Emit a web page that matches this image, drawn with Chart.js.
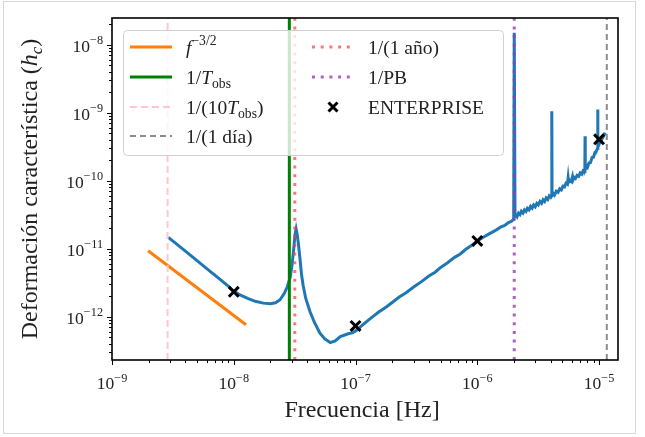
<!DOCTYPE html>
<html>
<head>
<meta charset="utf-8">
<script src="https://cdn.jsdelivr.net/npm/chart.js@4.4.1/dist/chart.umd.min.js"></script>
<style>
  html, body { margin: 0; padding: 0; background: #fff; }
  canvas { display: block; }
</style>
</head>
<body>
<canvas id="hcChart" width="645" height="437"></canvas>
<script>
// sensitivity curve
const freq = [
  2.90e-9, 3.5e-9, 4.5e-9, 6e-9, 7.5e-9, 9e-9, 1.0e-8, 1.15e-8, 1.3e-8, 1.5e-8, 1.75e-8, 2.0e-8,
  2.2e-8, 2.4e-8, 2.6e-8, 2.75e-8, 2.9e-8, 3.0e-8, 3.1e-8, 3.18e-8, 3.25e-8, 3.32e-8, 3.4e-8,
  3.5e-8, 3.6e-8, 3.71e-8, 3.9e-8, 4.23e-8, 4.6e-8, 5.1e-8, 5.6e-8, 6.2e-8, 6.8e-8, 7.5e-8,
  8.7e-8, 9.5e-8, 1.02e-7, 1.15e-7, 1.32e-7, 1.55e-7, 1.8e-7, 2.3e-7, 2.6e-7, 3.0e-7, 3.5e-7, 4.0e-7,
  4.5e-7, 5.0e-7, 5.7e-7, 6.5e-7, 7.2e-7, 8.0e-7, 9.0e-7, 1.0e-6, 1.12e-6, 1.25e-6, 1.4e-6, 1.55e-6,
  1.68e-6, 1.8e-6, 1.9e-6, 1.99e-6, 2.01e-6, 2.04e-6,
  2.06e-6, 2.12e-6, 2.18e-6, 2.24e-6, 2.30e-6, 2.37e-6, 2.44e-6, 2.51e-6, 2.58e-6, 2.66e-6,
  2.74e-6, 2.82e-6, 2.90e-6, 2.99e-6, 3.08e-6, 3.17e-6, 3.27e-6, 3.37e-6, 3.47e-6, 3.57e-6,
  3.68e-6, 3.79e-6, 3.90e-6, 4.0e-6, 4.07e-6, 4.09e-6, 4.11e-6, 4.2e-6, 4.3e-6, 4.45e-6,
  4.6e-6, 4.75e-6, 4.9e-6, 5.05e-6, 5.2e-6, 5.35e-6, 5.5e-6, 5.57e-6, 5.62e-6, 5.75e-6,
  5.9e-6, 6.05e-6, 6.12e-6, 6.25e-6, 6.4e-6, 6.6e-6, 6.8e-6, 7.0e-6, 7.2e-6, 7.4e-6,
  7.58e-6, 7.64e-6, 7.67e-6, 7.70e-6, 7.85e-6, 8.0e-6, 8.25e-6, 8.5e-6, 8.75e-6, 9.0e-6,
  9.25e-6, 9.5e-6, 9.72e-6, 9.75e-6, 9.78e-6, 1.0e-5, 1.03e-5, 1.06e-5, 1.09e-5, 1.12e-5
];
const hc = [
  1.47e-11, 1.12e-11, 7.76e-12, 5.09e-12, 3.68e-12, 2.82e-12, 2.36e-12, 2.05e-12, 1.85e-12, 1.68e-12, 1.58e-12, 1.55e-12,
  1.6e-12, 1.77e-12, 2.2e-12, 2.75e-12, 3.7e-12, 5.5e-12, 9.5e-12, 1.6e-11, 1.95e-11, 1.6e-11, 1.15e-11,
  7.0e-12, 4.2e-12, 2.9e-12, 1.85e-12, 1.18e-12, 8.2e-13, 5.7e-13, 4.7e-13, 4.15e-13, 4.4e-13, 5.1e-13,
  5.6e-13, 5.8e-13, 6.3e-13, 7.6e-13, 9.35e-13, 1.17e-12, 1.4e-12, 1.96e-12, 2.25e-12, 2.73e-12, 3.3e-12, 3.96e-12,
  4.5e-12, 5.3e-12, 6.2e-12, 7.45e-12, 8.3e-12, 9.73e-12, 1.12e-11, 1.3e-11, 1.47e-11, 1.65e-11, 1.84e-11, 2.07e-11,
  2.2e-11, 2.42e-11, 2.52e-11, 2.7e-11, 1.5e-8, 3.0e-11,
  3.2e-11, 2.95e-11, 3.33e-11, 3.17e-11, 3.55e-11, 3.34e-11, 3.72e-11, 3.53e-11, 3.93e-11, 3.72e-11,
  4.2e-11, 3.94e-11, 4.4e-11, 4.13e-11, 4.65e-11, 4.4e-11, 4.95e-11, 4.65e-11, 5.25e-11, 4.95e-11,
  5.6e-11, 5.3e-11, 6.0e-11, 5.75e-11, 6.0e-11, 1.05e-9, 6.1e-11, 6.5e-11, 6.15e-11, 7.0e-11,
  6.75e-11, 7.6e-11, 7.3e-11, 8.3e-11, 8.15e-11, 9.2e-11, 8.9e-11, 1.1e-10, 9.5e-11, 1.0e-10,
  9.7e-11, 1.15e-10, 1.03e-10, 1.12e-10, 1.08e-10, 1.2e-10, 1.16e-10, 1.3e-10, 1.25e-10, 1.4e-10,
  1.36e-10, 1.42e-10, 4.5e-10, 1.46e-10, 1.58e-10, 1.55e-10, 1.82e-10, 1.85e-10, 2.2e-10, 2.22e-10,
  2.62e-10, 2.72e-10, 3.0e-10, 1.12e-9, 3.1e-10, 3.45e-10, 3.75e-10, 4.2e-10, 4.55e-10, 5.1e-10
];

// f^-3/2 guide
const slopeFreq = [1.98e-9, 1.26e-8];
const slopeHc = [9.3e-12, 7.6e-13];

// ENTERPRISE points
const entFreq = [1e-8, 1e-7, 1e-6, 1e-5];
const entHc = [2.32e-12, 7.3e-13, 1.3e-11, 4.06e-10];

// vertical reference frequencies
const fTenObs = 2.86e-9;
const fObs = 2.86e-8;
const fYear = 3.17e-8;
const fPB = 2.01e-6;
const fDay = 1.157e-5;

// axis ranges and tick labels (powers of ten)
const xRange = [1e-9, 1.43e-5];
const yRange = [2.3e-13, 2.48e-8];
const xTickExp = [-9, -8, -7, -6, -5];
const yTickExp = [-12, -11, -10, -9, -8];

const SERIF = '"Liberation Serif", "DejaVu Serif", serif';

function pts(xs, ys) {
  return xs.map((x, i) => ({ x: x, y: ys[i] }));
}
function vline(f) {
  return [{ x: f, y: yRange[0] }, { x: f, y: yRange[1] }];
}

// draws text made of [text, style] parts; style n / i / sup / sub / isub
function rich(ctx, parts, x, y, size, align) {
  const font = p => {
    const small = p[1] === 'sup' || p[1] === 'sub' || p[1] === 'isub';
    const it = p[1] === 'i' || p[1] === 'isub';
    return (it ? 'italic ' : '') + (small ? size * 0.7 : size) + 'px ' + SERIF;
  };
  let w = 0;
  parts.forEach(p => { ctx.font = font(p); w += ctx.measureText(p[0]).width; });
  let cx = align === 'center' ? x - w / 2 : align === 'right' ? x - w : x;
  ctx.textAlign = 'left';
  ctx.textBaseline = 'alphabetic';
  parts.forEach(p => {
    ctx.font = font(p);
    const dy = p[1] === 'sup' ? -size * 0.42 : (p[1] === 'sub' || p[1] === 'isub') ? size * 0.22 : 0;
    ctx.fillText(p[0], cx, y + dy);
    cx += ctx.measureText(p[0]).width;
  });
}

const legendItems = [
  { col: 0, row: 0, color: '#ff7f0e', w: 3, dash: [], parts: [['f', 'i'], ['\u22123/2', 'sup']] },
  { col: 0, row: 1, color: '#008000', w: 3, dash: [], parts: [['1/', 'n'], ['T', 'i'], ['obs', 'sub']] },
  { col: 0, row: 2, color: 'rgba(255,192,203,0.9)', w: 2, dash: [7, 4], parts: [['1/(10', 'n'], ['T', 'i'], ['obs', 'sub'], [')', 'n']] },
  { col: 0, row: 3, color: 'rgba(128,128,128,0.9)', w: 2, dash: [6, 4], parts: [['1/(1 d\u00eda)', 'n']] },
  { col: 1, row: 0, color: 'rgba(255,60,60,0.7)', w: 3, dash: [3, 5.7], parts: [['1/(1 a\u00f1o)', 'n']] },
  { col: 1, row: 1, color: 'rgba(150,60,180,0.8)', w: 3, dash: [3, 5.7], parts: [['1/PB', 'n']] },
  { col: 1, row: 2, marker: true, parts: [['ENTERPRISE', 'n']] }
];

const axesPlugin = {
  id: 'axesPlugin',
  afterDraw(chart) {
    const ctx = chart.ctx;
    const a = chart.chartArea;
    const xs = chart.scales.x, ys = chart.scales.y;
    ctx.save();

    // ticks
    ctx.strokeStyle = '#000';
    ctx.lineWidth = 1;
    for (let e = -10; e <= -4; e++) {
      for (let k = 1; k <= 9; k++) {
        const v = k * Math.pow(10, e);
        const len = k === 1 ? 5 : 3;
        if (v >= xRange[0] * 0.999 && v <= xRange[1]) {
          const px = Math.round(xs.getPixelForValue(v)) + 0.5;
          ctx.beginPath(); ctx.moveTo(px, a.bottom); ctx.lineTo(px, a.bottom + len); ctx.stroke();
        }
      }
    }
    for (let e = -14; e <= -7; e++) {
      for (let k = 1; k <= 9; k++) {
        const v = k * Math.pow(10, e);
        const len = k === 1 ? 5 : 3;
        if (v >= yRange[0] && v <= yRange[1]) {
          const py = Math.round(ys.getPixelForValue(v)) + 0.5;
          ctx.beginPath(); ctx.moveTo(a.left, py); ctx.lineTo(a.left - len, py); ctx.stroke();
        }
      }
    }

    // frame
    ctx.lineWidth = 1.6;
    ctx.strokeRect(a.left, a.top, a.right - a.left, a.bottom - a.top);

    // tick labels
    ctx.fillStyle = '#222';
    xTickExp.forEach(e => {
      const px = xs.getPixelForValue(Math.pow(10, e));
      rich(ctx, [['10', 'n'], ['\u2212' + Math.abs(e), 'sup']], px, a.bottom + 29, 17.5, 'center');
    });
    yTickExp.forEach(e => {
      const py = ys.getPixelForValue(Math.pow(10, e));
      rich(ctx, [['10', 'n'], ['\u2212' + Math.abs(e), 'sup']], a.left - 9, py + 7, 17.5, 'right');
    });

    // axis titles
    rich(ctx, [['Frecuencia [Hz]', 'n']], (a.left + a.right) / 2 - 3, a.bottom + 57, 24, 'center');
    ctx.save();
    ctx.translate(37, (a.top + a.bottom) / 2);
    ctx.rotate(-Math.PI / 2);
    rich(ctx, [['Deformaci\u00f3n caracter\u00edstica (', 'n'], ['h', 'i'], ['c', 'isub'], [')', 'n']], 0, 0, 24, 'center');
    ctx.restore();

    // legend box
    const L = { x: 123, y: 30, w: 380, h: 125 };
    ctx.beginPath();
    ctx.roundRect(L.x + 0.5, L.y + 0.5, L.w, L.h, 4);
    ctx.fillStyle = 'rgba(255,255,255,0.8)';
    ctx.fill();
    ctx.strokeStyle = '#d0d0d0';
    ctx.lineWidth = 1;
    ctx.stroke();

    const colLine = [130, 312];
    const colText = [186, 368];
    const rowY = [47, 77, 107, 136];
    legendItems.forEach(it => {
      const x0 = colLine[it.col], yy = rowY[it.row];
      if (it.marker) {
        const cx = x0 + 21, r = 4.5;
        ctx.strokeStyle = '#000';
        ctx.lineWidth = 3;
        ctx.setLineDash([]);
        ctx.beginPath();
        ctx.moveTo(cx - r, yy - r); ctx.lineTo(cx + r, yy + r);
        ctx.moveTo(cx - r, yy + r); ctx.lineTo(cx + r, yy - r);
        ctx.stroke();
      } else {
        ctx.strokeStyle = it.color;
        ctx.lineWidth = it.w;
        ctx.setLineDash(it.dash);
        ctx.beginPath(); ctx.moveTo(x0, yy); ctx.lineTo(x0 + 42, yy); ctx.stroke();
        ctx.setLineDash([]);
      }
      ctx.fillStyle = '#222';
      rich(ctx, it.parts, colText[it.col], yy + 6.5, 19.5, 'left');
    });

    // figure border
    ctx.strokeStyle = '#d8d8d8';
    ctx.lineWidth = 1;
    ctx.strokeRect(3.5, 1.5, 632, 432);
    ctx.restore();
  }
};

const ctx = document.getElementById('hcChart').getContext('2d');
new Chart(ctx, {
  type: 'scatter',
  data: {
    datasets: [
      {
        label: 'ENTERPRISE', data: pts(entFreq, entHc),
        pointStyle: 'crossRot', pointRadius: 7, borderWidth: 3,
        borderColor: '#000', backgroundColor: '#000'
      },
      {
        label: '1/PB', data: vline(fPB), showLine: true, pointRadius: 0,
        borderColor: 'rgba(150,60,180,0.8)', borderWidth: 3, borderDash: [3, 5.7]
      },
      {
        label: '1/(1 año)', data: vline(fYear), showLine: true, pointRadius: 0,
        borderColor: 'rgba(255,60,60,0.7)', borderWidth: 3, borderDash: [3, 5.7]
      },
      {
        label: '1/(1 día)', data: vline(fDay), showLine: true, pointRadius: 0,
        borderColor: 'rgba(128,128,128,0.9)', borderWidth: 2, borderDash: [6, 4]
      },
      {
        label: '1/(10Tobs)', data: vline(fTenObs), showLine: true, pointRadius: 0,
        borderColor: 'rgba(255,192,203,0.9)', borderWidth: 2, borderDash: [7, 4]
      },
      {
        label: '1/Tobs', data: vline(fObs), showLine: true, pointRadius: 0,
        borderColor: '#008000', borderWidth: 3
      },
      {
        label: 'f^-3/2', data: pts(slopeFreq, slopeHc), showLine: true, pointRadius: 0,
        borderColor: '#ff7f0e', borderWidth: 3
      },
      {
        label: 'hc', data: pts(freq, hc), showLine: true, pointRadius: 0,
        borderColor: '#1f77b4', borderWidth: 3, tension: 0
      }
    ]
  },
  options: {
    responsive: false,
    animation: false,
    layout: { padding: { left: 112, top: 18, right: 27, bottom: 77 } },
    scales: {
      x: { type: 'logarithmic', min: xRange[0], max: xRange[1], display: false },
      y: { type: 'logarithmic', min: yRange[0], max: yRange[1], display: false }
    },
    plugins: {
      legend: { display: false },
      tooltip: { enabled: false }
    }
  },
  plugins: [axesPlugin]
});
</script>
</body>
</html>
